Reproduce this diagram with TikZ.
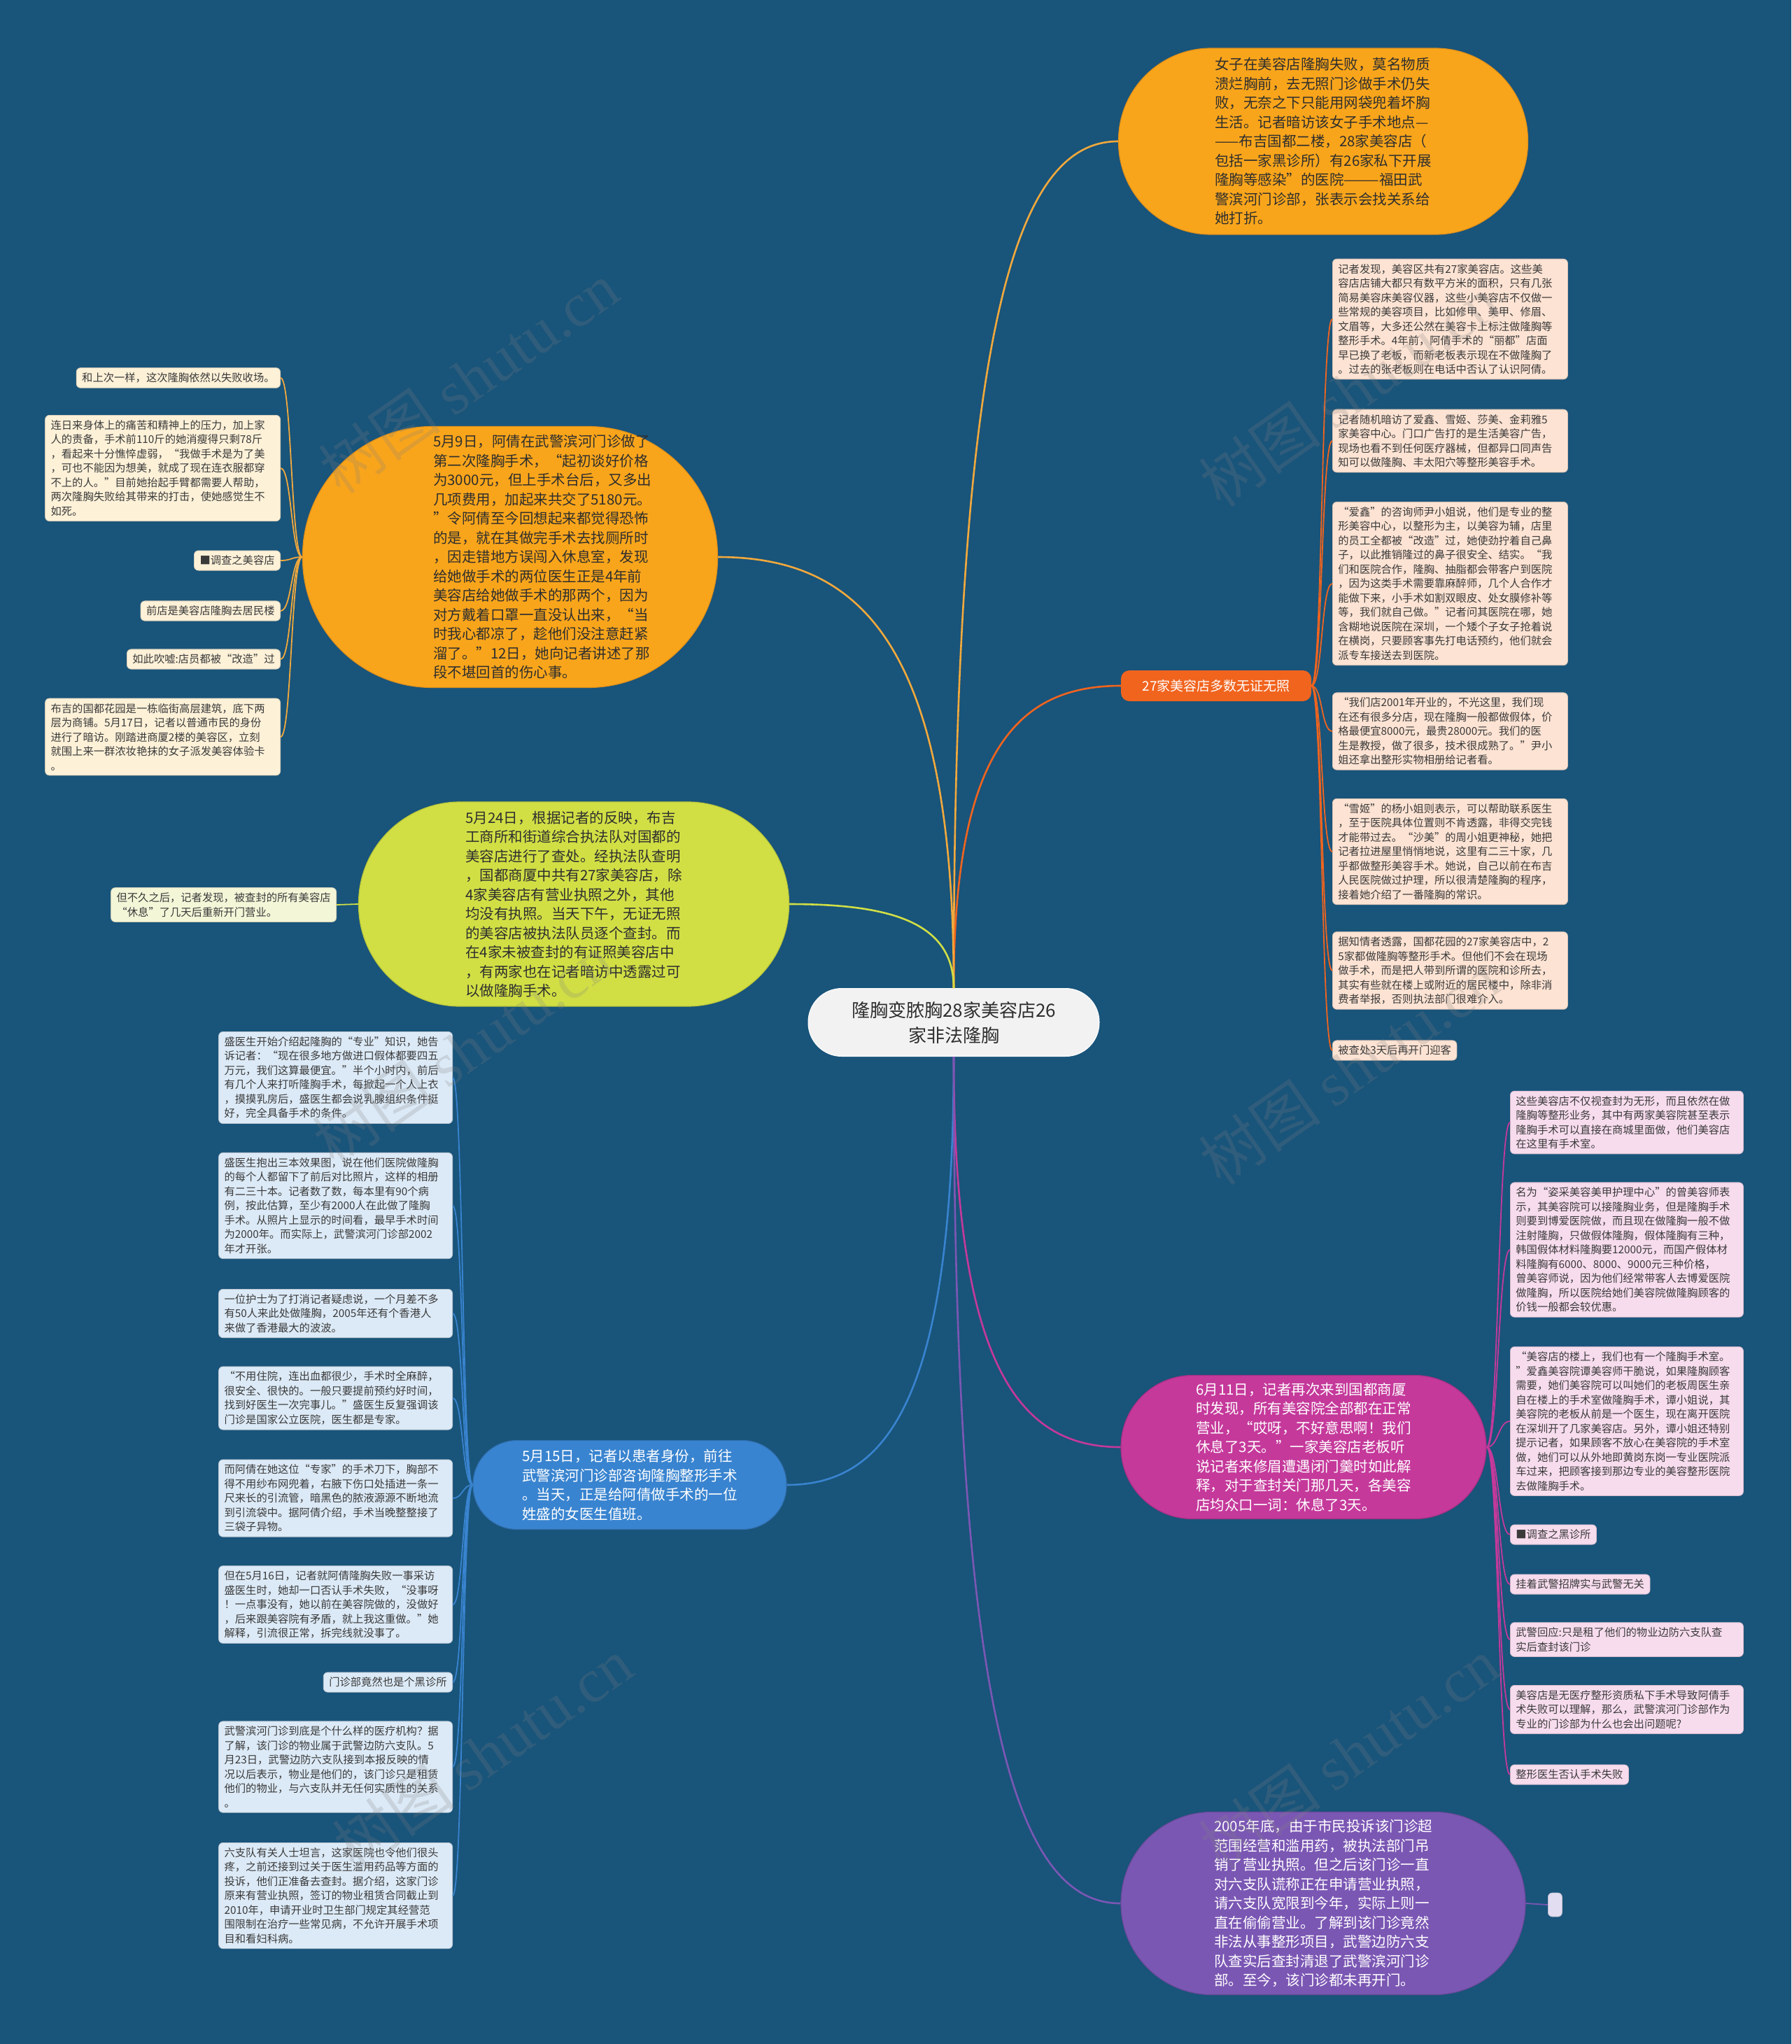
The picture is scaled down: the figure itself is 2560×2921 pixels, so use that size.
\documentclass[tikz,border=0pt]{standalone}
\usepackage{fontspec}
\setmainfont{Noto Sans CJK SC}
\newfontfamily\wmlatin{Liberation Serif}
\usetikzlibrary{calc}
\definecolor{bg}{HTML}{19547A}
\definecolor{darktext}{HTML}{2E2E2E}
\definecolor{leaftext}{HTML}{3A3A3A}
\definecolor{cOrange}{HTML}{F9A51B}
\definecolor{cOrangeD}{HTML}{E0901A}
\definecolor{cOrangeL}{HTML}{F2A93C}
\definecolor{cRed}{HTML}{F1641E}
\definecolor{cGreen}{HTML}{D1DF45}
\definecolor{cGreenD}{HTML}{B9C73A}
\definecolor{cBlue}{HTML}{3984D0}
\definecolor{cPink}{HTML}{C5399B}
\definecolor{cPurple}{HTML}{7B57B4}
\definecolor{cCenter}{HTML}{F2F2F2}
\definecolor{lCream}{HTML}{FDF1D8}
\definecolor{lPeach}{HTML}{FDE3D3}
\definecolor{lGreen}{HTML}{F4F6D8}
\definecolor{lBlue}{HTML}{DCEAF7}
\definecolor{lPink}{HTML}{F7DCEE}
\definecolor{lPurple}{HTML}{E2DDF1}
\newcommand\mmcurve[3]{\draw[#1] (#2) .. controls ($(#2)!0.8!(#2|-#3)$) and ($(#3)!0.6!(#2|-#3)$) .. (#3);}
\begin{document}
\begin{tikzpicture}[x=1pt,y=-1pt,
  leaf/.style={rectangle, rounded corners=6pt, inner xsep=8pt, inner ysep=7pt,
    font=\fontsize{15.3}{20.5}\selectfont, text=leaftext, align=left, line width=0.8pt},
  mainnode/.style={rectangle, inner sep=0pt, font=\fontsize{20.5}{27.5}\selectfont,
    align=left, line width=1.2pt},
  brw/.style={line width=2.6pt},
  lnk/.style={line width=1.8pt},
  wm/.style={text=gray, opacity=0.22, font=\fontsize{88}{90}\selectfont, rotate=35}
]
\useasboundingbox (0,0) rectangle (2560,2921);
\fill[bg] (0,0) rectangle (2560,2921);

% ---------- centre ----------
\node[rectangle, fill=cCenter, draw=white, line width=1pt, minimum width=416pt, minimum height=97pt,
  rounded corners=48pt, inner sep=0pt, text=darktext, align=center,
  font=\fontsize{26}{36}\selectfont] (C) at (1363,1461) {隆胸变脓胸28家美容店26\\家非法隆胸};

% ---------- main nodes ----------
\node[mainnode, fill=cOrange, draw=cOrangeD, text=darktext, minimum width=585pt, minimum height=266pt,
  rounded corners=132pt] (B1) at (1891,202) {女子在美容店隆胸失败，莫名物质\\溃烂胸前，去无照门诊做手术仍失\\败，无奈之下只能用网袋兜着坏胸\\生活。记者暗访该女子手术地点—\\——布吉国都二楼，28家美容店（\\包括一家黑诊所）有26家私下开展\\隆胸等感染”的医院———福田武\\警滨河门诊部，张表示会找关系给\\她打折。};

\node[rectangle, fill=cRed, text=white, font=\fontsize{19}{22}\selectfont, minimum width=272pt,
  minimum height=44pt, inner sep=0pt, rounded corners=12pt] (LB) at (1738,980) {27家美容店多数无证无照};

\node[mainnode, fill=cOrange, draw=cOrangeD, minimum width=593pt, minimum height=373pt,
  rounded corners=185pt] (B2) at (729,796) {};
\node[mainnode, text=darktext] (B2t) at (775,796) {5月9日，阿倩在武警滨河门诊做了\\第二次隆胸手术，“起初谈好价格\\为3000元，但上手术台后，又多出\\几项费用，加起来共交了5180元。\\”令阿倩至今回想起来都觉得恐怖\\的是，就在其做完手术去找厕所时\\，因走错地方误闯入休息室，发现\\给她做手术的两位医生正是4年前\\美容店给她做手术的那两个，因为\\对方戴着口罩一直没认出来，“当\\时我心都凉了，趁他们没注意赶紧\\溜了。”12日，她向记者讲述了那\\段不堪回首的伤心事。};

\node[mainnode, fill=cGreen, draw=cGreenD, text=darktext, minimum width=615pt, minimum height=292pt,
  rounded corners=145pt] (B3) at (820,1292) {5月24日，根据记者的反映，布吉\\工商所和街道综合执法队对国都的\\美容店进行了查处。经执法队查明\\，国都商厦中共有27家美容店，除\\4家美容店有营业执照之外，其他\\均没有执照。当天下午，无证无照\\的美容店被执法队员逐个查封。而\\在4家未被查封的有证照美容店中\\，有两家也在记者暗访中透露过可\\以做隆胸手术。};

\node[mainnode, fill=cBlue, draw=cBlue!85!black, text=white, minimum width=448pt, minimum height=127pt,
  rounded corners=63pt] (B4) at (900,2122) {5月15日，记者以患者身份，前往\\武警滨河门诊部咨询隆胸整形手术\\。当天，正是给阿倩做手术的一位\\姓盛的女医生值班。};

\node[mainnode, fill=cPink, draw=cPink!85!black, text=white, minimum width=522pt, minimum height=205pt,
  rounded corners=102pt] (B5) at (1863,2068) {6月11日，记者再次来到国都商厦\\时发现，所有美容院全部都在正常\\营业，“哎呀，不好意思啊！我们\\休息了3天。”一家美容店老板听\\说记者来修眉遭遇闭门羹时如此解\\释，对于查封关门那几天，各美容\\店均众口一词：休息了3天。};

\node[mainnode, fill=cPurple, draw=cPurple!85!black, text=white, minimum width=578pt, minimum height=261pt,
  rounded corners=130pt] (B6) at (1891,2720) {2005年底，由于市民投诉该门诊超\\范围经营和滥用药，被执法部门吊\\销了营业执照。但之后该门诊一直\\对六支队谎称正在申请营业执照，\\请六支队宽限到今年，实际上则一\\直在偷偷营业。了解到该门诊竟然\\非法从事整形项目，武警边防六支\\队查实后查封清退了武警滨河门诊\\部。至今，该门诊都未再开门。};

% ---------- right (red) cluster ----------
\begin{scope}[every node/.style={leaf, fill=lPeach, draw=lPeach!85!black, anchor=west}]
\node[text width=320pt] (R1) at (1904,456) {记者发现，美容区共有27家美容店。这些美\\容店店铺大都只有数平方米的面积，只有几张\\简易美容床美容仪器，这些小美容店不仅做一\\些常规的美容项目，比如修甲、美甲、修眉、\\文眉等，大多还公然在美容卡上标注做隆胸等\\整形手术。4年前，阿倩手术的“丽都”店面\\早已换了老板，而新老板表示现在不做隆胸了\\。过去的张老板则在电话中否认了认识阿倩。};
\node[text width=320pt] (R2) at (1904,630) {记者随机暗访了爱鑫、雪姬、莎美、金莉雅5\\家美容中心。门口广告打的是生活美容广告，\\现场也看不到任何医疗器械，但都异口同声告\\知可以做隆胸、丰太阳穴等整形美容手术。};
\node[text width=320pt] (R3) at (1904,834) {“爱鑫”的咨询师尹小姐说，他们是专业的整\\形美容中心，以整形为主，以美容为辅，店里\\的员工全都被“改造”过，她使劲拧着自己鼻\\子，以此推销隆过的鼻子很安全、结实。“我\\们和医院合作，隆胸、抽脂都会带客户到医院\\，因为这类手术需要靠麻醉师，几个人合作才\\能做下来，小手术如割双眼皮、处女膜修补等\\等，我们就自己做。”记者问其医院在哪，她\\含糊地说医院在深圳，一个矮个子女子抢着说\\在横岗，只要顾客事先打电话预约，他们就会\\派专车接送去到医院。};
\node[text width=320pt] (R4) at (1904,1045) {“我们店2001年开业的，不光这里，我们现\\在还有很多分店，现在隆胸一般都做假体，价\\格最便宜8000元，最贵28000元。我们的医\\生是教授，做了很多，技术很成熟了。”尹小\\姐还拿出整形实物相册给记者看。};
\node[text width=320pt] (R5) at (1904,1217) {“雪姬”的杨小姐则表示，可以帮助联系医生\\，至于医院具体位置则不肯透露，非得交完钱\\才能带过去。“沙美”的周小姐更神秘，她把\\记者拉进屋里悄悄地说，这里有二三十家，几\\乎都做整形美容手术。她说，自己以前在布吉\\人民医院做过护理，所以很清楚隆胸的程序，\\接着她介绍了一番隆胸的常识。};
\node[text width=320pt] (R6) at (1904,1387) {据知情者透露，国都花园的27家美容店中，2\\5家都做隆胸等整形手术。但他们不会在现场\\做手术，而是把人带到所谓的医院和诊所去，\\其实有些就在楼上或附近的居民楼中，除非消\\费者举报，否则执法部门很难介入。};
\node (R7) at (1904,1501) {被查处3天后再开门迎客};
\end{scope}

% ---------- left orange cluster ----------
\begin{scope}[every node/.style={leaf, fill=lCream, draw=lCream!85!black, anchor=east}]
\node (L1) at (401,540) {和上次一样，这次隆胸依然以失败收场。};
\node[text width=320pt] (L2) at (401,669) {连日来身体上的痛苦和精神上的压力，加上家\\人的责备，手术前110斤的她消瘦得只剩78斤\\，看起来十分憔悴虚弱，“我做手术是为了美\\，可也不能因为想美，就成了现在连衣服都穿\\不上的人。”目前她抬起手臂都需要人帮助，\\两次隆胸失败给其带来的打击，使她感觉生不\\如死。};
\node (L3) at (401,801) {■调查之美容店};
\node (L4) at (401,873) {前店是美容店隆胸去居民楼};
\node (L5) at (401,942) {如此吹嘘:店员都被“改造”过};
\node[text width=320pt] (L6) at (401,1053) {布吉的国都花园是一栋临街高层建筑，底下两\\层为商铺。5月17日，记者以普通市民的身份\\进行了暗访。刚踏进商厦2楼的美容区，立刻\\就围上来一群浓妆艳抹的女子派发美容体验卡\\。};
\end{scope}

% ---------- green leaf ----------
\node[leaf, fill=lGreen, draw=lGreen!85!black, anchor=east] (G1) at (481,1293) {但不久之后，记者发现，被查封的所有美容店\\“休息”了几天后重新开门营业。};

% ---------- blue cluster ----------
\begin{scope}[every node/.style={leaf, fill=lBlue, draw=lBlue!85!black, anchor=east}]
\node[text width=318pt] (BL1) at (647,1540) {盛医生开始介绍起隆胸的“专业”知识，她告\\诉记者：“现在很多地方做进口假体都要四五\\万元，我们这算最便宜。”半个小时内，前后\\有几个人来打听隆胸手术，每掀起一个人上衣\\，摸摸乳房后，盛医生都会说乳腺组织条件挺\\好，完全具备手术的条件。};
\node[text width=318pt] (BL2) at (647,1723) {盛医生抱出三本效果图，说在他们医院做隆胸\\的每个人都留下了前后对比照片，这样的相册\\有二三十本。记者数了数，每本里有90个病\\例，按此估算，至少有2000人在此做了隆胸\\手术。从照片上显示的时间看，最早手术时间\\为2000年。而实际上，武警滨河门诊部2002\\年才开张。};
\node[text width=318pt] (BL3) at (647,1877) {一位护士为了打消记者疑虑说，一个月差不多\\有50人来此处做隆胸，2005年还有个香港人\\来做了香港最大的波波。};
\node[text width=318pt] (BL4) at (647,1998) {“不用住院，连出血都很少，手术时全麻醉，\\很安全、很快的。一般只要提前预约好时间，\\找到好医生一次完事儿。”盛医生反复强调该\\门诊是国家公立医院，医生都是专家。};
\node[text width=318pt] (BL5) at (647,2141) {而阿倩在她这位“专家”的手术刀下，胸部不\\得不用纱布网兜着，右腋下伤口处插进一条一\\尺来长的引流管，暗黑色的脓液源源不断地流\\到引流袋中。据阿倩介绍，手术当晚整整接了\\三袋子异物。};
\node[text width=318pt] (BL6) at (647,2293) {但在5月16日，记者就阿倩隆胸失败一事采访\\盛医生时，她却一口否认手术失败，“没事呀\\！一点事没有，她以前在美容院做的，没做好\\，后来跟美容院有矛盾，就上我这重做。”她\\解释，引流很正常，拆完线就没事了。};
\node (BL7) at (647,2404) {门诊部竟然也是个黑诊所};
\node[text width=318pt] (BL8) at (647,2525) {武警滨河门诊到底是个什么样的医疗机构？据\\了解，该门诊的物业属于武警边防六支队。5\\月23日，武警边防六支队接到本报反映的情\\况以后表示，物业是他们的，该门诊只是租赁\\他们的物业，与六支队并无任何实质性的关系\\。};
\node[text width=318pt] (BL9) at (647,2709) {六支队有关人士坦言，这家医院也令他们很头\\疼，之前还接到过关于医生滥用药品等方面的\\投诉，他们正准备去查封。据介绍，这家门诊\\原来有营业执照，签订的物业租赁合同截止到\\2010年，申请开业时卫生部门规定其经营范\\围限制在治疗一些常见病，不允许开展手术项\\目和看妇科病。};
\end{scope}

% ---------- pink cluster ----------
\begin{scope}[every node/.style={leaf, fill=lPink, draw=lPink!85!black, anchor=west}]
\node[text width=317pt] (PL1) at (2158,1604) {这些美容店不仅视查封为无形，而且依然在做\\隆胸等整形业务，其中有两家美容院甚至表示\\隆胸手术可以直接在商城里面做，他们美容店\\在这里有手术室。};
\node[text width=317pt] (PL2) at (2158,1786) {名为“姿采美容美甲护理中心”的曾美容师表\\示，其美容院可以接隆胸业务，但是隆胸手术\\则要到博爱医院做，而且现在做隆胸一般不做\\注射隆胸，只做假体隆胸，假体隆胸有三种，\\韩国假体材料隆胸要12000元，而国产假体材\\料隆胸有6000、8000、9000元三种价格，\\曾美容师说，因为他们经常带客人去博爱医院\\做隆胸，所以医院给她们美容院做隆胸顾客的\\价钱一般都会较优惠。};
\node[text width=317pt] (PL3) at (2158,2031) {“美容店的楼上，我们也有一个隆胸手术室。\\”爱鑫美容院谭美容师干脆说，如果隆胸顾客\\需要，她们美容院可以叫她们的老板周医生亲\\自在楼上的手术室做隆胸手术，谭小姐说，其\\美容院的老板从前是一个医生，现在离开医院\\在深圳开了几家美容店。另外，谭小姐还特别\\提示记者，如果顾客不放心在美容院的手术室\\做，她们可以从外地即黄岗东岗一专业医院派\\车过来，把顾客接到那边专业的美容整形医院\\去做隆胸手术。};
\node (PL4) at (2158,2193) {■调查之黑诊所};
\node (PL5) at (2158,2264) {挂着武警招牌实与武警无关};
\node[text width=317pt] (PL6) at (2158,2343) {武警回应:只是租了他们的物业边防六支队查\\实后查封该门诊};
\node[text width=317pt] (PL7) at (2158,2443) {美容店是无医疗整形资质私下手术导致阿倩手\\术失败可以理解，那么，武警滨河门诊部作为\\专业的门诊部为什么也会出问题呢?};
\node (PL8) at (2158,2536) {整形医生否认手术失败};
\end{scope}

% ---------- purple leaf ----------
\node[leaf, fill=lPurple, draw=lPurple!85!black, anchor=west, inner sep=0pt, minimum width=20pt,
  minimum height=34pt] (PU1) at (2212,2722) {};

% ---------- main connectors ----------
\mmcurve{brw, cOrangeL}{C.north}{B1.west}
\mmcurve{brw, cRed}{C.north}{LB.west}
\mmcurve{brw, cOrangeL}{C.north}{B2.east}
\mmcurve{brw, cGreen}{C.north}{B3.east}
\mmcurve{brw, cBlue}{C.south}{B4.east}
\mmcurve{brw, cPink}{C.south}{B5.west}
\mmcurve{brw, cPurple}{C.south}{B6.west}

% ---------- leaf connectors ----------
\foreach \n in {R1,R2,R3,R4,R5,R6,R7}
  \draw[lnk, cRed] (LB.east) .. controls +(16,0) and +(-16,0) .. (\n.west);
\foreach \n in {L1,L2,L3,L4,L5,L6}
  \draw[lnk, cOrangeL] (B2.west) .. controls +(-16,0) and +(16,0) .. (\n.east);
\draw[lnk, cGreen] (B3.west) -- (G1.east);
\foreach \n in {BL1,BL2,BL3,BL4,BL5,BL6,BL7,BL8,BL9}
  \draw[lnk, cBlue] (B4.west) .. controls +(-15,0) and +(15,0) .. (\n.east);
\foreach \n in {PL1,PL2,PL3,PL4,PL5,PL6,PL7,PL8}
  \draw[lnk, cPink] (B5.east) .. controls +(17,0) and +(-17,0) .. (\n.west);
\draw[lnk, cPurple] (B6.east) -- (PU1.west);

% ---------- watermarks ----------
\node[wm] (W1) at (670,540) {树图 {\wmlatin shutu.cn}};
\node[wm] (W2) at (1928,559) {树图 {\wmlatin shutu.cn}};
\node[wm] (W3) at (661,1500) {树图 {\wmlatin shutu.cn}};
\node[wm] (W4) at (1928,1528) {树图 {\wmlatin shutu.cn}};
\node[wm] (W5) at (690,2506) {树图 {\wmlatin shutu.cn}};
\node[wm] (W6) at (1928,2506) {树图 {\wmlatin shutu.cn}};
\end{tikzpicture}
\end{document}
